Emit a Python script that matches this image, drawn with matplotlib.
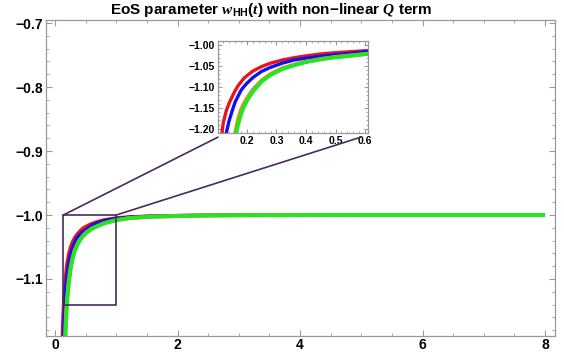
import matplotlib
matplotlib.use("Agg")
import matplotlib.pyplot as plt
from matplotlib.patches import Rectangle, ConnectionPatch
from matplotlib.ticker import MultipleLocator, FuncFormatter

# cosmic time samples shared by all curves
t = [0.11, 0.12, 0.13, 0.14, 0.15, 0.16, 0.17, 0.18, 0.19, 0.20,
     0.22, 0.25, 0.28, 0.32, 0.36, 0.40, 0.45, 0.50, 0.55, 0.60,
     0.70, 0.80, 1.0, 1.2, 1.5, 2.0, 2.5, 3.0, 4.0, 5.0, 6.0, 7.0, 8.0]

w_red = [-1.24, -1.185, -1.157, -1.138, -1.123, -1.109, -1.097, -1.088, -1.079, -1.073,
         -1.062, -1.051, -1.043, -1.0355, -1.030, -1.0257, -1.021, -1.018, -1.0156, -1.0134,
         -1.010, -1.0075, -1.0045, -1.003, -1.0018, -1.0008, -1.0004, -1.0002, -1.0001, -1.0, -1.0, -1.0, -1.0]
w_blue = [-1.30, -1.25, -1.21, -1.180, -1.157, -1.136, -1.122, -1.108, -1.099, -1.091,
          -1.0775, -1.0626, -1.053, -1.043, -1.0354, -1.031, -1.0264, -1.023, -1.0196, -1.016,
          -1.012, -1.009, -1.0055, -1.0036, -1.0022, -1.001, -1.0005, -1.0003, -1.0001, -1.0, -1.0, -1.0, -1.0]
w_orange = [-1.50, -1.42, -1.355, -1.30, -1.25, -1.21, -1.177, -1.154, -1.139, -1.127,
            -1.106, -1.084, -1.069, -1.055, -1.0465, -1.0395, -1.033, -1.028, -1.0245, -1.021,
            -1.017, -1.013, -1.008, -1.005, -1.003, -1.0015, -1.0008, -1.0004, -1.0001, -1.0, -1.0, -1.0, -1.0]
w_green = [-1.53, -1.45, -1.38, -1.32, -1.27, -1.225, -1.190, -1.165, -1.147, -1.133,
           -1.111, -1.087, -1.071, -1.057, -1.048, -1.0405, -1.034, -1.029, -1.0254, -1.0217,
           -1.017, -1.013, -1.008, -1.005, -1.003, -1.0015, -1.0008, -1.0004, -1.0001, -1.0, -1.0, -1.0, -1.0]

curves = [(w_red, "#e8141c", 2.4), (w_blue, "#1010f0", 2.4),
          (w_orange, "#f08a1a", 2.8), (w_green, "#22e622", 2.8)]

# region magnified in the inset
box_t = (0.136, 1.0)
box_w = (-1.14, -1.0)

frame_col = "#9a9a9a"
box_col = "#4b2a5c"

plt.rcParams["font.family"] = "Liberation Sans"
plt.rcParams["font.weight"] = "bold"
plt.rcParams["mathtext.fontset"] = "custom"
plt.rcParams["mathtext.rm"] = "Liberation Sans:bold"
plt.rcParams["mathtext.bf"] = "Liberation Sans:bold"
plt.rcParams["mathtext.it"] = "Liberation Serif:italic"


def minus_fmt(fmt):
    return FuncFormatter(lambda v, p: fmt.format(v).replace("-", "\u2212"))


def style_frame(ax, size):
    for s in ax.spines.values():
        s.set_color(frame_col)
        s.set_linewidth(0.9)
    ax.tick_params(which="both", direction="in", top=True, right=True,
                   color=frame_col, labelsize=size, labelcolor="black", pad=2)
    ax.tick_params(which="major", length=4, width=0.8)
    ax.tick_params(which="minor", length=2.2, width=0.6)
    for lab in ax.get_xticklabels() + ax.get_yticklabels():
        lab.set_fontweight("bold")


fig = plt.figure(figsize=(5.64, 3.58), dpi=100)
ax = fig.add_axes([0.0816, 0.0623, 0.9025, 0.8832])

for w, c, lw in curves:
    ax.plot(t, w, color=c, lw=lw, solid_capstyle="butt")

ax.set_xlim(-0.147, 8.163)
ax.set_ylim(-1.1886, -0.6945)
ax.xaxis.set_major_locator(MultipleLocator(2))
ax.xaxis.set_minor_locator(MultipleLocator(0.5))
ax.yaxis.set_major_locator(MultipleLocator(0.1))
ax.yaxis.set_minor_locator(MultipleLocator(0.02))
ax.xaxis.set_major_formatter(minus_fmt("{:.0f}"))
ax.yaxis.set_major_formatter(minus_fmt("{:.1f}"))
style_frame(ax, 10)

fig.text(0.48, 0.962, "EoS parameter $w_{\\mathbf{HH}}(t)$ with non\u2212linear $Q$ term",
         ha="center", va="baseline", fontsize=11, fontweight="bold")

ax.add_patch(Rectangle((box_t[0], box_w[0]), box_t[1] - box_t[0], box_w[1] - box_w[0],
                       fill=False, ec=box_col, lw=1.2, zorder=5))

# inset
axi = fig.add_axes([0.3865, 0.6285, 0.266, 0.257])
for w, c, lw in curves:
    axi.plot(t, w, color=c, lw=lw, solid_capstyle="butt")
axi.set_xlim(0.102, 0.61)
axi.set_ylim(-1.21, -0.99)
axi.xaxis.set_major_locator(MultipleLocator(0.1))
axi.xaxis.set_minor_locator(MultipleLocator(0.02))
axi.yaxis.set_major_locator(MultipleLocator(0.05))
axi.yaxis.set_minor_locator(MultipleLocator(0.01))
axi.xaxis.set_major_formatter(minus_fmt("{:.1f}"))
axi.yaxis.set_major_formatter(minus_fmt("{:.2f}"))
style_frame(axi, 7.5)
axi.tick_params(which="major", length=3)
axi.tick_params(which="minor", length=1.6)

for xa, xb in [(box_t[0], 0.0), (box_t[1], 0.953)]:
    con = ConnectionPatch(xyA=(xa, box_w[1]), coordsA=ax.transData,
                          xyB=(xb, -0.045), coordsB=axi.transAxes,
                          color=box_col, lw=1.2, zorder=6)
    fig.add_artist(con)

fig.savefig("out.png", dpi=100)
